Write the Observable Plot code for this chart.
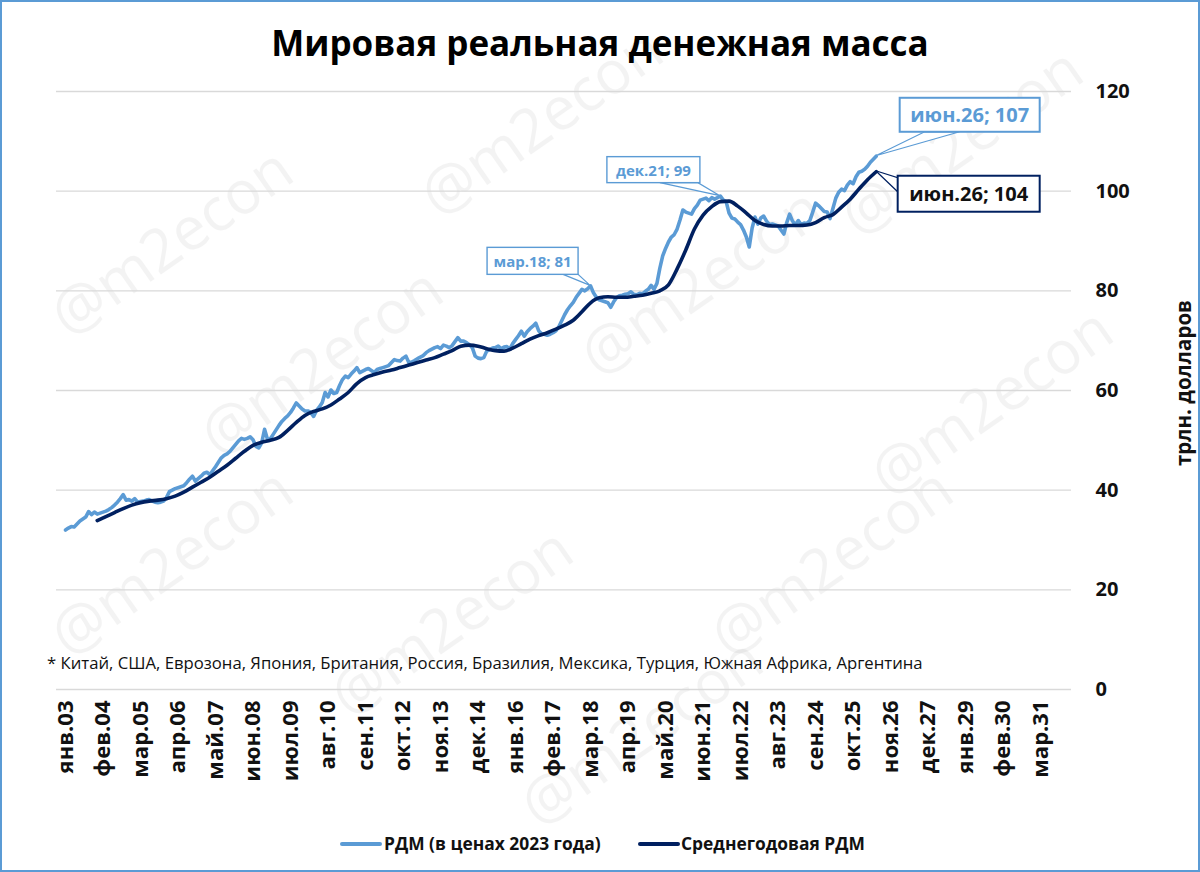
<!DOCTYPE html>
<html><head><meta charset="utf-8">
<script src="https://cdn.jsdelivr.net/npm/d3@7"></script>
<script src="https://cdn.jsdelivr.net/npm/@observablehq/plot@0.6"></script>
<style>
html,body{margin:0;padding:0;background:#fff;}
#frame{position:relative;width:1200px;height:872px;overflow:hidden;background:#fff;font-family:"Open Sans",sans-serif;color:#000;}
#border{position:absolute;left:0;top:0;width:1200px;height:872px;box-sizing:border-box;border:2px solid #5B9BD5;pointer-events:none;}
#wm{position:absolute;left:0;top:0;width:1200px;height:872px;}
.wm{position:absolute;font-family:"Open Sans",sans-serif;font-size:60px;color:#000;opacity:0.045;transform:translate(-50%,-50%) rotate(-35deg);white-space:nowrap;}
#title{position:absolute;left:0;width:1200px;top:18px;text-align:center;font-size:35px;font-weight:700;line-height:50px;}
#chart{position:absolute;left:0;top:70px;}
#note{position:absolute;left:47px;top:651px;font-size:16.7px;line-height:24px;color:#111;white-space:nowrap;}
#ylabel{position:absolute;left:1183px;top:383px;transform:translate(-50%,-50%) rotate(-90deg);font-size:20.5px;font-weight:700;white-space:nowrap;color:#111;}
#legend{position:absolute;top:830px;left:0;width:1200px;height:26px;font-size:17.4px;font-weight:700;line-height:26px;color:#111;}
.sw{position:absolute;top:12px;height:3.5px;width:42px;border-radius:2px;}
.lt{position:absolute;top:0;white-space:nowrap;}
</style></head><body>
<div id="frame">
  <div id="wm"></div>
  <div id="title"></div>
  <div id="chart"></div>
  <div id="note"></div>
  <div id="ylabel"></div>
  <div id="legend"></div>
  <div id="border"></div>
</div>
<script>
// ---------- DATA ----------
const seriesNames = ["РДМ (в ценах 2023 года)", "Среднегодовая РДМ"];
const title = "Мировая реальная денежная масса";
const footnote = "* Китай, США, Еврозона, Япония, Британия, Россия, Бразилия, Мексика, Турция, Южная Африка, Аргентина";
const yAxisLabel = "трлн. долларов";
const yTicks = [0, 20, 40, 60, 80, 100, 120];
const xTickLabels = ["янв.03","фев.04","мар.05","апр.06","май.07","июн.08","июл.09","авг.10","сен.11","окт.12","ноя.13","дек.14","янв.16","фев.17","мар.18","апр.19","май.20","июн.21","июл.22","авг.23","сен.24","окт.25","ноя.26","дек.27","янв.29","фев.30","мар.31"];
const xTickStepMonths = 13;
const baseYear = 2003;

// monthly real money supply, Jan 2003 .. Jun 2026 (trn USD)
const rdmStart = [2003, 1];
const rdm = [
  32.0,32.4,32.7,32.6,33.2,33.8,34.2,34.6,35.7,35.1,35.6,35.2,
  35.4,35.6,35.8,36.1,36.5,37.0,37.6,38.3,39.1,38.0,38.1,37.8,
  38.3,37.6,37.7,37.8,38.0,38.1,37.8,37.6,37.5,37.6,37.8,38.5,
  39.7,40.0,40.3,40.5,40.7,40.9,41.5,42.2,42.8,41.8,42.3,42.8,
  43.4,43.6,43.1,43.9,44.7,45.6,46.5,47.0,47.3,47.8,48.5,49.2,
  49.9,50.4,50.2,50.4,50.7,50.1,48.8,48.5,49.5,52.2,50.2,50.3,
  51.2,52.1,53.0,53.8,54.4,54.9,55.6,56.5,57.5,56.9,56.3,55.9,
  55.9,55.6,54.8,56.0,56.7,57.6,59.6,58.7,60.1,59.4,59.6,61.0,
  62.2,62.9,62.6,63.3,63.9,64.6,63.6,63.9,64.2,64.4,64.0,63.6,
  64.2,64.4,64.6,64.8,65.0,65.6,66.2,66.0,65.9,66.5,66.9,65.6,
  65.7,66.0,66.4,66.7,67.0,67.6,68.0,68.3,68.6,68.8,68.4,69.1,
  68.9,68.6,69.0,69.8,70.6,69.9,69.9,69.6,69.2,68.6,66.9,66.5,
  66.4,66.6,67.9,68.2,68.5,68.6,68.9,68.4,68.7,68.8,68.3,69.4,
  70.2,71.0,71.9,70.9,71.8,72.4,72.9,73.5,72.0,71.4,71.3,71.1,
  71.3,71.6,72.0,72.8,74.0,75.2,76.2,77.0,77.7,78.7,79.5,80.3,
  80.0,80.4,81.0,79.6,78.7,78.2,78.0,77.8,77.6,76.7,77.8,78.6,
  79.0,79.1,79.3,79.4,79.8,79.3,79.2,79.5,79.4,79.9,80.3,81.1,
  80.3,81.5,84.5,87.0,88.5,89.8,90.8,91.3,92.4,94.2,96.2,95.8,
  95.6,95.4,96.5,97.2,98.2,98.4,98.6,98.1,98.7,98.4,98.7,99.0,
  98.2,97.9,95.6,94.6,94.4,93.8,93.3,92.2,90.8,88.8,92.6,94.8,
  93.4,94.6,95.0,94.0,93.3,93.4,93.2,93.0,92.2,91.4,93.7,95.4,
  94.0,93.2,94.1,93.3,93.6,93.5,94.1,95.8,97.6,97.1,96.5,95.9,
  95.8,94.5,96.5,98.6,99.8,100.4,100.1,101.2,101.9,101.5,102.9,103.8,
  104.0,104.4,105.0,105.8,106.4,107.0
];

// annual average RDM read every 3 months, Dec 2003 .. Jun 2026
const avgStart = [2003, 12];
const avgStepMonths = 3;
const rdmAvg = [
  33.9,34.7,35.5,36.3,37.0,37.5,37.8,38.0,38.3,38.8,
  39.6,40.6,41.6,42.6,43.8,45.0,46.4,47.8,49.0,49.6,
  50.0,50.6,52.0,53.6,55.0,55.8,56.3,57.1,58.3,59.6,
  61.4,62.6,63.2,63.7,64.1,64.6,65.1,65.6,66.1,66.6,
  67.3,68.0,68.9,69.1,68.9,68.4,68.0,67.9,68.5,69.4,
  70.3,71.0,71.6,72.3,73.1,74.1,75.8,77.6,78.6,78.8,
  78.7,78.7,78.9,79.1,79.5,80.0,81.2,84.4,88.2,92.4,
  95.2,96.9,97.9,98.0,97.0,95.6,94.1,93.3,93.0,93.0,
  93.1,93.1,93.2,93.7,94.7,95.3,96.8,98.4,100.4,102.3,
  103.9
];

// callouts
const calloutLabels = ["мар.18; 81", "дек.21; 99", "июн.26; 107", "июн.26; 104"];
const calloutDates = [[2018, 3], [2021, 12], [2026, 6], [2026, 6]];
const calloutValues = [81, 99, 107, 104];

// ---------- BUILD ----------
const mIndex = (y, m) => (y - baseYear) * 12 + (m - 1);
const rdmData = rdm.map((v, i) => ({m: mIndex(rdmStart[0], rdmStart[1]) + i, v}));
const avgData = rdmAvg.map((v, i) => ({m: mIndex(avgStart[0], avgStart[1]) + i * avgStepMonths, v}));
const xTicks = xTickLabels.map((label, k) => ({m: k * xTickStepMonths, label}));

const LIGHT = "#5B9BD5", DARK = "#002060", GRID = "#D9D9D9";
const FONT = "Open Sans, sans-serif";

const chart = Plot.plot({
  width: 1200, height: 750,
  marginTop: 21, marginBottom: 131, marginLeft: 56, marginRight: 129,
  x: {domain: [-3.12, 348.7], axis: null},
  y: {domain: [0, 120], axis: null},
  style: {fontFamily: FONT, background: "transparent", overflow: "visible"},
  marks: [
    Plot.ruleY(yTicks, {stroke: GRID, strokeWidth: 1.4}),
    Plot.line(rdmData, {x: "m", y: "v", stroke: LIGHT, strokeWidth: 3.6, strokeLinejoin: "round", strokeLinecap: "round"}),
    Plot.line(avgData, {x: "m", y: "v", stroke: DARK, strokeWidth: 3.6, curve: "monotone-x", strokeLinejoin: "round", strokeLinecap: "round"}),
    Plot.text(yTicks, {y: d => d, text: d => String(d), frameAnchor: "right", dx: 24, textAnchor: "start", fontSize: 20, fontWeight: 700, fill: "#111"}),
    Plot.text(xTicks, {x: "m", text: "label", frameAnchor: "bottom", rotate: -90, textAnchor: "end", lineAnchor: "middle", dy: 11, fontSize: 22, fontWeight: 700, fill: "#111"})
  ]
});
document.getElementById("chart").appendChild(chart);

// callout boxes placed from the chart's own scales
const sx = chart.scale("x"), sy = chart.scale("y");
const calloutLayout = [
  {x0: -103, y0: -38, w: 91, h: 27, base: [[-27, -11], [-12, -11]], fs: 15, color: LIGHT, text: LIGHT, sw: 1.4},
  {x0: -113, y0: -39, w: 93, h: 26, base: [[-60, -13], [-22, -13]], fs: 15, color: LIGHT, text: LIGHT, sw: 1.4},
  {x0: 24, y0: -58, w: 140, h: 34, base: [[49, -24], [84, -24]], fs: 20, color: LIGHT, text: LIGHT, sw: 2},
  {x0: 22, y0: 5, w: 142, h: 36, base: [[22, 7], [22, 21]], fs: 20, color: DARK, text: "#111", sw: 2}
];
const svg = d3.select(chart);
const g = svg.append("g");
calloutLabels.forEach((label, i) => {
  const L = calloutLayout[i];
  const px = sx.apply(mIndex(calloutDates[i][0], calloutDates[i][1]));
  const py = sy.apply(calloutValues[i]);
  g.append("polygon")
    .attr("points", [[px, py], [px + L.base[0][0], py + L.base[0][1]], [px + L.base[1][0], py + L.base[1][1]]].map(p => p.join(",")).join(" "))
    .attr("fill", "#fff").attr("stroke", L.color).attr("stroke-width", 1.2);
  g.append("rect")
    .attr("x", px + L.x0).attr("y", py + L.y0).attr("width", L.w).attr("height", L.h)
    .attr("fill", "#fff").attr("stroke", L.color).attr("stroke-width", L.sw);
  g.append("text")
    .attr("x", px + L.x0 + L.w / 2).attr("y", py + L.y0 + L.h / 2)
    .attr("text-anchor", "middle").attr("dominant-baseline", "central")
    .attr("font-family", FONT).attr("font-size", L.fs).attr("font-weight", 700)
    .attr("fill", L.text).text(label);
});

// texts
document.getElementById("title").textContent = title;
document.getElementById("note").textContent = footnote;
document.getElementById("ylabel").textContent = yAxisLabel;
const legend = document.getElementById("legend");
const legendPos = [{sw: 340, tx: 384}, {sw: 638, tx: 681}];
[LIGHT, DARK].forEach((c, i) => {
  const s = document.createElement("div"); s.className = "sw"; s.style.left = legendPos[i].sw + "px"; s.style.background = c; legend.appendChild(s);
  const t = document.createElement("div"); t.className = "lt"; t.style.left = legendPos[i].tx + "px"; t.textContent = seriesNames[i]; legend.appendChild(t);
});

// faint watermark
const wmText = "@m2econ";
const wmPos = [[540,120],[960,140],[170,240],[320,360],[700,280],[990,400],[170,560],[450,620],[830,560],[640,730]];
const wm = document.getElementById("wm");
wmPos.forEach(([x, y]) => { const d = document.createElement("div"); d.className = "wm"; d.style.left = x + "px"; d.style.top = y + "px"; d.textContent = wmText; wm.appendChild(d); });
</script>
</body></html>
